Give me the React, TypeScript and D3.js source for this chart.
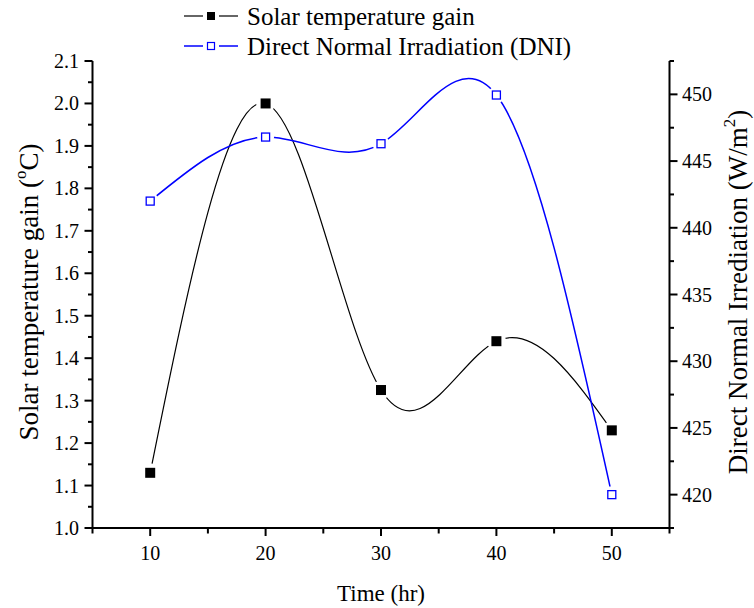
import React from 'react';
import * as d3 from 'd3';

const times = [10, 20, 30, 40, 50];
const solarGain = [1.13, 2.0, 1.325, 1.44, 1.23];
const dniValues = [442.0, 446.8, 446.3, 449.95, 420.0];
const xTickValues = [10, 20, 30, 40, 50];
const xMinorValues = [5, 15, 25, 35, 45, 55];
const leftTickValues = [1.0, 1.1, 1.2, 1.3, 1.4, 1.5, 1.6, 1.7, 1.8, 1.9, 2.0, 2.1];
const leftMinorValues = [1.05, 1.15, 1.25, 1.35, 1.45, 1.55, 1.65, 1.75, 1.85, 1.95, 2.05];
const rightTickValues = [420, 425, 430, 435, 440, 445, 450];
const rightMinorValues = [417.5, 422.5, 427.5, 432.5, 437.5, 442.5, 447.5, 452.5];
const seriesNames = ['Solar temperature gain', 'Direct Normal Irradiation (DNI)'];

const W = 754;
const H = 608;
const PL = 92.5;
const PR = 669.5;
const PT = 61;
const PB = 528;
const FONT = "'Liberation Serif', 'Times New Roman', Times, serif";
const BLUE = '#0000ff';

export default function App() {
  const x = d3.scaleLinear().domain([5, 55]).range([PL, PR]);
  const yL = d3.scaleLinear().domain([1.0, 2.1]).range([PB, PT]);
  const yR = d3.scaleLinear().domain([417.5, 452.5]).range([PB, PT]);

  const solarPts: [number, number][] = times.map((t, i) => [x(t), yL(solarGain[i])]);
  const dniPts: [number, number][] = times.map((t, i) => [x(t), yR(dniValues[i])]);
  const line = d3.line().curve(d3.curveNatural);

  const majorLen = 8;
  const minorLen = 4.5;
  const ts = { fontFamily: FONT, fill: '#000' } as React.CSSProperties;

  return (
    <svg width={W} height={H} style={{ position: 'absolute', left: 0, top: 0, background: '#fff' }}>
      <defs>
        <mask id="mSolar" maskUnits="userSpaceOnUse" x={0} y={0} width={W} height={H}>
          <rect x={0} y={0} width={W} height={H} fill="#fff" />
          {solarPts.map((p, i) => (
            <circle key={i} cx={p[0]} cy={p[1]} r={9.5} fill="#000" />
          ))}
        </mask>
        <mask id="mDni" maskUnits="userSpaceOnUse" x={0} y={0} width={W} height={H}>
          <rect x={0} y={0} width={W} height={H} fill="#fff" />
          {dniPts.map((p, i) => (
            <circle key={i} cx={p[0]} cy={p[1]} r={8.5} fill="#000" />
          ))}
        </mask>
      </defs>
      <rect x={0} y={0} width={W} height={H} fill="#fff" />

      {/* series lines */}
      <path d={line(solarPts) || ''} fill="none" stroke="#000" strokeWidth={1.2} mask="url(#mSolar)" />
      <path d={line(dniPts) || ''} fill="none" stroke={BLUE} strokeWidth={1.5} mask="url(#mDni)" />

      {/* markers */}
      {solarPts.map((p, i) => (
        <rect key={'s' + i} x={p[0] - 5} y={p[1] - 5} width={10} height={10} fill="#000" />
      ))}
      {dniPts.map((p, i) => (
        <rect key={'d' + i} x={p[0] - 4} y={p[1] - 4} width={8} height={8} fill="#fff" stroke={BLUE} strokeWidth={1.3} />
      ))}

      {/* axes lines */}
      <line x1={PL} x2={PR} y1={PB} y2={PB} stroke="#000" strokeWidth={2} />
      <line x1={PL} x2={PL} y1={PT} y2={PB} stroke="#000" strokeWidth={2} />
      <line x1={PR} x2={PR} y1={PT} y2={PB} stroke="#000" strokeWidth={2} />

      {/* x ticks */}
      {xTickValues.map((v) => (
        <g key={'xt' + v}>
          <line x1={x(v)} x2={x(v)} y1={PB} y2={PB + majorLen} stroke="#000" strokeWidth={2} />
          <text x={x(v)} y={553} style={ts} fontSize={20} textAnchor="middle" dominantBaseline="central">{v}</text>
        </g>
      ))}
      {xMinorValues.map((v) => (
        <line key={'xm' + v} x1={x(v)} x2={x(v)} y1={PB} y2={PB + minorLen + 1} stroke="#000" strokeWidth={2} />
      ))}

      {/* left ticks */}
      {leftTickValues.map((v) => (
        <g key={'lt' + v}>
          <line x1={PL - majorLen} x2={PL} y1={yL(v)} y2={yL(v)} stroke="#000" strokeWidth={2} />
          <text x={79} y={yL(v)} style={ts} fontSize={20} textAnchor="end" dominantBaseline="central">{v.toFixed(1)}</text>
        </g>
      ))}
      {leftMinorValues.map((v) => (
        <line key={'lm' + v} x1={PL - minorLen} x2={PL} y1={yL(v)} y2={yL(v)} stroke="#000" strokeWidth={2} />
      ))}

      {/* right ticks */}
      {rightTickValues.map((v) => (
        <g key={'rt' + v}>
          <line x1={PR} x2={PR + majorLen} y1={yR(v)} y2={yR(v)} stroke="#000" strokeWidth={2} />
          <text x={682} y={yR(v)} style={ts} fontSize={20} textAnchor="start" dominantBaseline="central">{v}</text>
        </g>
      ))}
      {rightMinorValues.map((v) => (
        <line key={'rm' + v} x1={PR} x2={PR + minorLen} y1={yR(v)} y2={yR(v)} stroke="#000" strokeWidth={2} />
      ))}

      {/* axis titles */}
      <text x={(PL + PR) / 2} y={593} style={ts} fontSize={23} textAnchor="middle" dominantBaseline="central">Time (hr)</text>
      <text transform="translate(29,292) rotate(-90)" style={ts} fontSize={27} textAnchor="middle" dominantBaseline="central">
        Solar temperature gain (<tspan dy={-9} fontSize={17}>o</tspan><tspan dy={9}>C)</tspan>
      </text>
      <text transform="translate(738,292) rotate(-90)" style={ts} fontSize={27} textAnchor="middle" dominantBaseline="central">
        Direct Normal Irrediation (W/m<tspan dy={-9} fontSize={17}>2</tspan><tspan dy={9}>)</tspan>
      </text>

      {/* legend */}
      <g>
        <line x1={184} x2={203} y1={16} y2={16} stroke="#000" strokeWidth={1.2} />
        <line x1={219} x2={238} y1={16} y2={16} stroke="#000" strokeWidth={1.2} />
        <rect x={207} y={12} width={8} height={8} fill="#000" />
        <text x={247} y={16} style={ts} fontSize={25} dominantBaseline="central">{seriesNames[0]}</text>
        <line x1={184} x2={203} y1={46} y2={46} stroke={BLUE} strokeWidth={1.5} />
        <line x1={219} x2={238} y1={46} y2={46} stroke={BLUE} strokeWidth={1.5} />
        <rect x={207.5} y={42.5} width={7} height={7} fill="#fff" stroke={BLUE} strokeWidth={1.2} />
        <text x={247} y={46} style={ts} fontSize={25} dominantBaseline="central">{seriesNames[1]}</text>
      </g>
    </svg>
  );
}
